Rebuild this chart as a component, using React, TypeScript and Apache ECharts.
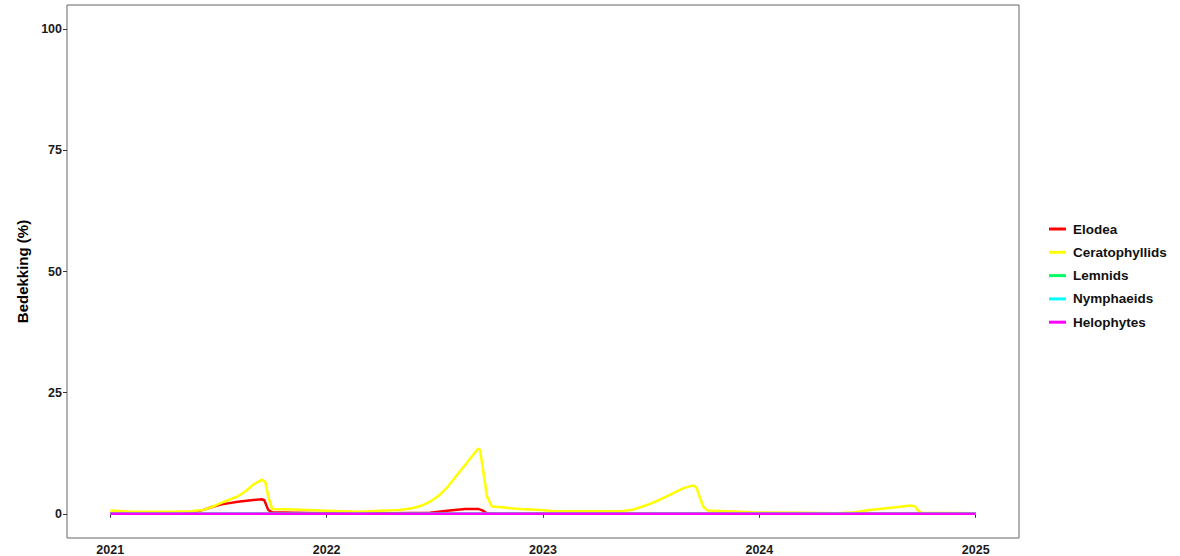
import React, { useEffect, useRef } from "react";
import * as echarts from "echarts";

const seriesNames = ["Elodea", "Ceratophyllids", "Lemnids", "Nymphaeids", "Helophytes"];
const seriesColors = ["#FF0000", "#FFFF00", "#00FF66", "#00FFFF", "#FF00FF"];

const yearTicks = [2021, 2022, 2023, 2024, 2025];
const yTicks = [0, 25, 50, 75, 100];

// time as decimal year
const elodeaT = [2021.0, 2021.33, 2021.38, 2021.43, 2021.47, 2021.51, 2021.55, 2021.59, 2021.65, 2021.70, 2021.712, 2021.73, 2021.748, 2021.85, 2022.0, 2022.3, 2022.478, 2022.557, 2022.64, 2022.70, 2022.72, 2022.741, 2022.76, 2025.0];
const elodeaV = [0, 0, 0.3, 0.8, 1.4, 1.9, 2.2, 2.5, 2.8, 3.0, 2.8, 0.8, 0.3, 0.2, 0.1, 0.1, 0.2, 0.6, 1.0, 1.0, 0.7, 0.1, 0, 0];

const cerT = [2021.0, 2021.1, 2021.28, 2021.37, 2021.43, 2021.47, 2021.51, 2021.55, 2021.59, 2021.63, 2021.66, 2021.70, 2021.716, 2021.73, 2021.748, 2021.85, 2022.0, 2022.15, 2022.25, 2022.34, 2022.40, 2022.44, 2022.478, 2022.52, 2022.557, 2022.59, 2022.63, 2022.665, 2022.70, 2022.709, 2022.723, 2022.741, 2022.764, 2022.894, 2022.99, 2023.05, 2023.36, 2023.42, 2023.48, 2023.54, 2023.6, 2023.65, 2023.69, 2023.70, 2023.71, 2023.72, 2023.74, 2023.76, 2023.97, 2024.2, 2024.36, 2024.44, 2024.51, 2024.62, 2024.70, 2024.72, 2024.735, 2024.75, 2025.0];
const cerV = [0.7, 0.4, 0.4, 0.5, 0.8, 1.4, 2.2, 2.9, 3.6, 4.8, 6.0, 7.0, 6.6, 3.6, 1.0, 0.9, 0.6, 0.4, 0.6, 0.8, 1.2, 1.7, 2.5, 3.8, 5.4, 7.3, 9.5, 11.5, 13.4, 13.2, 9.0, 3.6, 1.5, 1.0, 0.8, 0.5, 0.5, 0.9, 1.8, 2.9, 4.2, 5.3, 5.8, 5.8, 5.3, 4.0, 1.5, 0.7, 0.3, 0.2, 0.1, 0.3, 0.8, 1.3, 1.7, 1.5, 0.6, 0.2, 0.1];

const zeroT = [2021.0, 2025.0];
const zeroV = [0, 0];

const seriesT = [elodeaT, cerT, zeroT, zeroT, zeroT];
const seriesV = [elodeaV, cerV, zeroV, zeroV, zeroV];

export default function App() {
  const ref = useRef<HTMLDivElement>(null);
  useEffect(() => {
    if (!ref.current) return;
    const chart = echarts.init(ref.current, undefined, { renderer: "svg" });
    const font = "'Liberation Sans', Arial, sans-serif";
    chart.setOption({
      animation: false,
      backgroundColor: "#ffffff",
      textStyle: { fontFamily: font },
      grid: {
        left: 67, right: 161, top: 5, bottom: 18,
        show: true, borderColor: "#666666", borderWidth: 1, backgroundColor: "transparent",
      },
      legend: {
        orient: "vertical",
        left: 1044,
        top: 217,
        itemWidth: 17,
        itemHeight: 3,
        itemGap: 9.3,
        icon: "rect",
        data: seriesNames,
        textStyle: { fontFamily: font, fontWeight: "bold", fontSize: 13.5, lineHeight: 14, color: "#111111", padding: [0, 0, 0, 2] },
      },
      xAxis: {
        type: "value",
        min: 2020.8,
        max: 2025.2,
        axisLine: { show: false },
        splitLine: { show: false },
        axisTick: { show: true, length: 4, lineStyle: { color: "#333333" }, customValues: yearTicks },
        axisLabel: {
          customValues: yearTicks,
          formatter: (v: number) => String(Math.round(v)),
          fontFamily: font, fontWeight: "bold", fontSize: 12.5, color: "#1a1a1a", margin: 5,
        },
      },
      yAxis: {
        type: "value",
        min: -5,
        max: 105,
        name: "Bedekking (%)",
        nameLocation: "middle",
        nameGap: 31,
        nameRotate: 90,
        nameTextStyle: { fontFamily: font, fontWeight: "bold", fontSize: 15, color: "#000000" },
        axisLine: { show: false },
        splitLine: { show: false },
        axisTick: { show: true, length: 4, lineStyle: { color: "#333333" }, customValues: yTicks },
        axisLabel: {
          customValues: yTicks,
          fontFamily: font, fontWeight: "bold", fontSize: 12.5, color: "#1a1a1a", margin: 5,
        },
      },
      series: seriesNames.map((name, i) => ({
        name,
        type: "line",
        data: seriesT[i].map((t, j) => [t, seriesV[i][j]]),
        showSymbol: false,
        symbol: "none",
        smooth: false,
        lineStyle: { color: seriesColors[i], width: 2.5, join: "round" },
        itemStyle: { color: seriesColors[i] },
        z: 2 + i,
      })),
    });
    return () => chart.dispose();
  }, []);
  return <div ref={ref} style={{ position: "absolute", left: 0, top: 0, width: 1180, height: 556 }} />;
}
